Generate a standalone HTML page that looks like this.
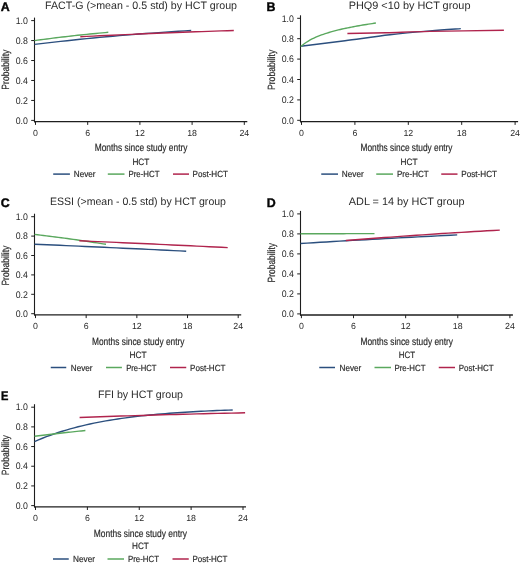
<!DOCTYPE html>
<html><head><meta charset="utf-8"><style>
html,body{margin:0;padding:0;background:#fff;}
svg{display:block;font-family:"Liberation Sans", sans-serif;filter:blur(0.3px);}
text{text-rendering:geometricPrecision;}
text{stroke:#2a2a2a;stroke-width:0.18px;}
text.lt{stroke:none;}
text.lg{stroke:#050505;stroke-width:0.4px;}
</style></head><body>
<svg width="520" height="564" viewBox="0 0 520 564">
<rect width="520" height="564" fill="#fff"/>
<text x="0.80" y="10.80" font-size="12.4" font-weight="bold" text-anchor="start" fill="#050505" class="lg">A</text>
<text x="45.00" y="8.60" font-size="10.8" font-weight="normal" text-anchor="start" fill="#2a2a2a" textLength="192.00" lengthAdjust="spacingAndGlyphs" class="lt">FACT-G (&gt;mean - 0.5 std) by HCT group</text>
<line x1="34.50" y1="17.60" x2="34.50" y2="122.30" stroke="#1e1e1e" stroke-width="1.1"/>
<line x1="33.95" y1="121.70" x2="247.30" y2="121.70" stroke="#1e1e1e" stroke-width="1.3"/>
<line x1="31.20" y1="120.40" x2="34.50" y2="120.40" stroke="#1e1e1e" stroke-width="1"/>
<text x="27.90" y="123.60" font-size="9.6" font-weight="normal" text-anchor="end" fill="#2a2a2a" textLength="12.20" lengthAdjust="spacingAndGlyphs" class="lt">0.0</text>
<line x1="31.20" y1="100.44" x2="34.50" y2="100.44" stroke="#1e1e1e" stroke-width="1"/>
<text x="27.90" y="103.64" font-size="9.6" font-weight="normal" text-anchor="end" fill="#2a2a2a" textLength="12.20" lengthAdjust="spacingAndGlyphs" class="lt">0.2</text>
<line x1="31.20" y1="80.48" x2="34.50" y2="80.48" stroke="#1e1e1e" stroke-width="1"/>
<text x="27.90" y="83.68" font-size="9.6" font-weight="normal" text-anchor="end" fill="#2a2a2a" textLength="12.20" lengthAdjust="spacingAndGlyphs" class="lt">0.4</text>
<line x1="31.20" y1="60.52" x2="34.50" y2="60.52" stroke="#1e1e1e" stroke-width="1"/>
<text x="27.90" y="63.72" font-size="9.6" font-weight="normal" text-anchor="end" fill="#2a2a2a" textLength="12.20" lengthAdjust="spacingAndGlyphs" class="lt">0.6</text>
<line x1="31.20" y1="40.56" x2="34.50" y2="40.56" stroke="#1e1e1e" stroke-width="1"/>
<text x="27.90" y="43.76" font-size="9.6" font-weight="normal" text-anchor="end" fill="#2a2a2a" textLength="12.20" lengthAdjust="spacingAndGlyphs" class="lt">0.8</text>
<line x1="31.20" y1="20.60" x2="34.50" y2="20.60" stroke="#1e1e1e" stroke-width="1"/>
<text x="27.90" y="23.80" font-size="9.6" font-weight="normal" text-anchor="end" fill="#2a2a2a" textLength="12.20" lengthAdjust="spacingAndGlyphs" class="lt">1.0</text>
<line x1="35.50" y1="121.70" x2="35.50" y2="124.90" stroke="#1e1e1e" stroke-width="1"/>
<text x="35.50" y="136.10" font-size="8.8" font-weight="normal" text-anchor="middle" fill="#2a2a2a" class="lt">0</text>
<line x1="87.70" y1="121.70" x2="87.70" y2="124.90" stroke="#1e1e1e" stroke-width="1"/>
<text x="87.70" y="136.10" font-size="8.8" font-weight="normal" text-anchor="middle" fill="#2a2a2a" class="lt">6</text>
<line x1="139.90" y1="121.70" x2="139.90" y2="124.90" stroke="#1e1e1e" stroke-width="1"/>
<text x="139.90" y="136.10" font-size="8.8" font-weight="normal" text-anchor="middle" fill="#2a2a2a" class="lt">12</text>
<line x1="192.10" y1="121.70" x2="192.10" y2="124.90" stroke="#1e1e1e" stroke-width="1"/>
<text x="192.10" y="136.10" font-size="8.8" font-weight="normal" text-anchor="middle" fill="#2a2a2a" class="lt">18</text>
<line x1="244.30" y1="121.70" x2="244.30" y2="124.90" stroke="#1e1e1e" stroke-width="1"/>
<text x="244.30" y="136.10" font-size="8.8" font-weight="normal" text-anchor="middle" fill="#2a2a2a" class="lt">24</text>
<text x="0" y="0" font-size="10.5" fill="#2a2a2a" text-anchor="middle" textLength="40.0" lengthAdjust="spacingAndGlyphs" transform="translate(8.70,69.65) rotate(-90)">Probability</text>
<text x="94.70" y="150.50" font-size="10.4" font-weight="normal" text-anchor="start" fill="#2a2a2a" textLength="92.80" lengthAdjust="spacingAndGlyphs">Months since study entry</text>
<text x="132.40" y="164.80" font-size="9.2" font-weight="normal" text-anchor="start" fill="#2a2a2a" textLength="16.90" lengthAdjust="spacingAndGlyphs">HCT</text>
<line x1="53.20" y1="174.10" x2="69.90" y2="174.10" stroke="#2b4f7e" stroke-width="1.5"/>
<text x="73.80" y="177.30" font-size="8.9" font-weight="normal" text-anchor="start" fill="#2a2a2a" textLength="21.80" lengthAdjust="spacingAndGlyphs">Never</text>
<line x1="107.80" y1="174.10" x2="124.50" y2="174.10" stroke="#5aa85e" stroke-width="1.5"/>
<text x="128.50" y="177.30" font-size="8.9" font-weight="normal" text-anchor="start" fill="#2a2a2a" textLength="31.00" lengthAdjust="spacingAndGlyphs">Pre-HCT</text>
<line x1="173.00" y1="174.10" x2="189.00" y2="174.10" stroke="#b0244d" stroke-width="1.5"/>
<text x="192.50" y="177.30" font-size="8.9" font-weight="normal" text-anchor="start" fill="#2a2a2a" textLength="35.50" lengthAdjust="spacingAndGlyphs">Post-HCT</text>
<path d="M34.50,44.40 L41.03,43.62 L47.56,42.86 L54.09,42.11 L60.62,41.39 L67.15,40.68 L73.67,39.99 L80.20,39.32 L86.73,38.67 L93.26,38.03 L99.79,37.41 L106.32,36.81 L112.85,36.23 L119.38,35.67 L125.91,35.12 L132.44,34.58 L138.97,34.07 L145.50,33.57 L152.02,33.09 L158.55,32.62 L165.08,32.17 L171.61,31.73 L178.14,31.30 L184.67,30.90 L191.20,30.50" fill="none" stroke="#2b4f7e" stroke-width="1.4" stroke-linecap="butt" stroke-linejoin="round"/>
<path d="M34.50,40.60 L37.58,40.18 L40.65,39.77 L43.73,39.36 L46.80,38.96 L49.88,38.57 L52.95,38.18 L56.03,37.80 L59.10,37.43 L62.17,37.06 L65.25,36.70 L68.32,36.35 L71.40,36.00 L74.47,35.66 L77.55,35.32 L80.62,34.99 L83.70,34.67 L86.78,34.35 L89.85,34.04 L92.92,33.74 L96.00,33.44 L99.08,33.15 L102.15,32.86 L105.22,32.58 L108.30,32.30" fill="none" stroke="#5aa85e" stroke-width="1.4" stroke-linecap="butt" stroke-linejoin="round"/>
<path d="M80.30,36.70 L86.70,36.39 L93.09,36.08 L99.49,35.78 L105.88,35.48 L112.28,35.19 L118.67,34.90 L125.07,34.62 L131.47,34.34 L137.86,34.07 L144.26,33.80 L150.65,33.54 L157.05,33.28 L163.45,33.02 L169.84,32.77 L176.24,32.53 L182.63,32.29 L189.03,32.05 L195.43,31.81 L201.82,31.59 L208.22,31.36 L214.61,31.14 L221.01,30.92 L227.40,30.71 L233.80,30.50" fill="none" stroke="#b0244d" stroke-width="1.4" stroke-linecap="butt" stroke-linejoin="round"/>
<text x="266.60" y="10.80" font-size="12.4" font-weight="bold" text-anchor="start" fill="#050505" class="lg">B</text>
<text x="348.70" y="8.60" font-size="10.8" font-weight="normal" text-anchor="start" fill="#2a2a2a" textLength="121.80" lengthAdjust="spacingAndGlyphs" class="lt">PHQ9 &lt;10 by HCT group</text>
<line x1="300.50" y1="15.30" x2="300.50" y2="122.30" stroke="#1e1e1e" stroke-width="1.1"/>
<line x1="299.95" y1="121.70" x2="518.10" y2="121.70" stroke="#1e1e1e" stroke-width="1.3"/>
<line x1="297.20" y1="120.30" x2="300.50" y2="120.30" stroke="#1e1e1e" stroke-width="1"/>
<text x="293.90" y="123.50" font-size="9.6" font-weight="normal" text-anchor="end" fill="#2a2a2a" textLength="12.20" lengthAdjust="spacingAndGlyphs" class="lt">0.0</text>
<line x1="297.20" y1="99.90" x2="300.50" y2="99.90" stroke="#1e1e1e" stroke-width="1"/>
<text x="293.90" y="103.10" font-size="9.6" font-weight="normal" text-anchor="end" fill="#2a2a2a" textLength="12.20" lengthAdjust="spacingAndGlyphs" class="lt">0.2</text>
<line x1="297.20" y1="79.50" x2="300.50" y2="79.50" stroke="#1e1e1e" stroke-width="1"/>
<text x="293.90" y="82.70" font-size="9.6" font-weight="normal" text-anchor="end" fill="#2a2a2a" textLength="12.20" lengthAdjust="spacingAndGlyphs" class="lt">0.4</text>
<line x1="297.20" y1="59.10" x2="300.50" y2="59.10" stroke="#1e1e1e" stroke-width="1"/>
<text x="293.90" y="62.30" font-size="9.6" font-weight="normal" text-anchor="end" fill="#2a2a2a" textLength="12.20" lengthAdjust="spacingAndGlyphs" class="lt">0.6</text>
<line x1="297.20" y1="38.70" x2="300.50" y2="38.70" stroke="#1e1e1e" stroke-width="1"/>
<text x="293.90" y="41.90" font-size="9.6" font-weight="normal" text-anchor="end" fill="#2a2a2a" textLength="12.20" lengthAdjust="spacingAndGlyphs" class="lt">0.8</text>
<line x1="297.20" y1="18.30" x2="300.50" y2="18.30" stroke="#1e1e1e" stroke-width="1"/>
<text x="293.90" y="21.50" font-size="9.6" font-weight="normal" text-anchor="end" fill="#2a2a2a" textLength="12.20" lengthAdjust="spacingAndGlyphs" class="lt">1.0</text>
<line x1="301.50" y1="121.70" x2="301.50" y2="124.90" stroke="#1e1e1e" stroke-width="1"/>
<text x="301.50" y="136.10" font-size="8.8" font-weight="normal" text-anchor="middle" fill="#2a2a2a" class="lt">0</text>
<line x1="354.90" y1="121.70" x2="354.90" y2="124.90" stroke="#1e1e1e" stroke-width="1"/>
<text x="354.90" y="136.10" font-size="8.8" font-weight="normal" text-anchor="middle" fill="#2a2a2a" class="lt">6</text>
<line x1="408.30" y1="121.70" x2="408.30" y2="124.90" stroke="#1e1e1e" stroke-width="1"/>
<text x="408.30" y="136.10" font-size="8.8" font-weight="normal" text-anchor="middle" fill="#2a2a2a" class="lt">12</text>
<line x1="461.70" y1="121.70" x2="461.70" y2="124.90" stroke="#1e1e1e" stroke-width="1"/>
<text x="461.70" y="136.10" font-size="8.8" font-weight="normal" text-anchor="middle" fill="#2a2a2a" class="lt">18</text>
<line x1="515.10" y1="121.70" x2="515.10" y2="124.90" stroke="#1e1e1e" stroke-width="1"/>
<text x="515.10" y="136.10" font-size="8.8" font-weight="normal" text-anchor="middle" fill="#2a2a2a" class="lt">24</text>
<text x="0" y="0" font-size="10.5" fill="#2a2a2a" text-anchor="middle" textLength="40.3" lengthAdjust="spacingAndGlyphs" transform="translate(274.70,69.90) rotate(-90)">Probability</text>
<text x="360.50" y="150.50" font-size="10.4" font-weight="normal" text-anchor="start" fill="#2a2a2a" textLength="92.00" lengthAdjust="spacingAndGlyphs">Months since study entry</text>
<text x="400.50" y="164.80" font-size="9.2" font-weight="normal" text-anchor="start" fill="#2a2a2a" textLength="17.00" lengthAdjust="spacingAndGlyphs">HCT</text>
<line x1="321.25" y1="174.10" x2="338.00" y2="174.10" stroke="#2b4f7e" stroke-width="1.5"/>
<text x="341.75" y="177.30" font-size="8.9" font-weight="normal" text-anchor="start" fill="#2a2a2a" textLength="22.00" lengthAdjust="spacingAndGlyphs">Never</text>
<line x1="376.25" y1="174.10" x2="393.00" y2="174.10" stroke="#5aa85e" stroke-width="1.5"/>
<text x="397.00" y="177.30" font-size="8.9" font-weight="normal" text-anchor="start" fill="#2a2a2a" textLength="31.75" lengthAdjust="spacingAndGlyphs">Pre-HCT</text>
<line x1="441.25" y1="174.10" x2="457.50" y2="174.10" stroke="#b0244d" stroke-width="1.5"/>
<text x="461.25" y="177.30" font-size="8.9" font-weight="normal" text-anchor="start" fill="#2a2a2a" textLength="35.75" lengthAdjust="spacingAndGlyphs">Post-HCT</text>
<path d="M300.80,46.30 C308.17,45.37 330.13,42.62 345.00,40.70 C359.87,38.78 375.83,36.43 390.00,34.80 C404.17,33.17 418.20,31.93 430.00,30.90 C441.80,29.87 455.67,28.98 460.80,28.60" fill="none" stroke="#2b4f7e" stroke-width="1.4" stroke-linecap="butt" stroke-linejoin="round"/>
<path d="M300.80,46.57 L302.68,44.95 L304.56,43.51 L306.43,42.22 L308.31,41.05 L310.19,39.98 L312.06,38.99 L313.94,38.08 L315.82,37.23 L317.70,36.43 L319.57,35.68 L321.45,34.97 L323.33,34.30 L325.21,33.67 L327.08,33.06 L328.96,32.49 L330.84,31.93 L332.72,31.41 L334.59,30.90 L336.47,30.41 L338.35,29.94 L340.23,29.49 L342.11,29.05 L343.98,28.63 L345.86,28.22 L347.74,27.83 L349.62,27.45 L351.49,27.07 L353.37,26.71 L355.25,26.36 L357.12,26.02 L359.00,25.69 L360.88,25.37 L362.76,25.05 L364.63,24.74 L366.51,24.44 L368.39,24.15 L370.27,23.86 L372.14,23.58 L374.02,23.31 L375.90,23.04" fill="none" stroke="#5aa85e" stroke-width="1.4" stroke-linecap="butt" stroke-linejoin="round"/>
<path d="M347.40,33.50 C353.83,33.37 372.23,33.05 386.00,32.70 C399.77,32.35 410.35,31.80 430.00,31.40 C449.65,31.00 491.58,30.48 503.90,30.30" fill="none" stroke="#b0244d" stroke-width="1.4" stroke-linecap="butt" stroke-linejoin="round"/>
<text x="0.80" y="206.70" font-size="12.4" font-weight="bold" text-anchor="start" fill="#050505" class="lg">C</text>
<text x="50.00" y="205.00" font-size="10.8" font-weight="normal" text-anchor="start" fill="#2a2a2a" textLength="176.00" lengthAdjust="spacingAndGlyphs" class="lt">ESSI (&gt;mean - 0.5 std) by HCT group</text>
<line x1="34.50" y1="213.70" x2="34.50" y2="315.50" stroke="#1e1e1e" stroke-width="1.1"/>
<line x1="33.95" y1="314.90" x2="241.20" y2="314.90" stroke="#1e1e1e" stroke-width="1.3"/>
<line x1="31.20" y1="313.70" x2="34.50" y2="313.70" stroke="#1e1e1e" stroke-width="1"/>
<text x="27.90" y="316.90" font-size="9.6" font-weight="normal" text-anchor="end" fill="#2a2a2a" textLength="12.20" lengthAdjust="spacingAndGlyphs" class="lt">0.0</text>
<line x1="31.20" y1="294.30" x2="34.50" y2="294.30" stroke="#1e1e1e" stroke-width="1"/>
<text x="27.90" y="297.50" font-size="9.6" font-weight="normal" text-anchor="end" fill="#2a2a2a" textLength="12.20" lengthAdjust="spacingAndGlyphs" class="lt">0.2</text>
<line x1="31.20" y1="274.90" x2="34.50" y2="274.90" stroke="#1e1e1e" stroke-width="1"/>
<text x="27.90" y="278.10" font-size="9.6" font-weight="normal" text-anchor="end" fill="#2a2a2a" textLength="12.20" lengthAdjust="spacingAndGlyphs" class="lt">0.4</text>
<line x1="31.20" y1="255.50" x2="34.50" y2="255.50" stroke="#1e1e1e" stroke-width="1"/>
<text x="27.90" y="258.70" font-size="9.6" font-weight="normal" text-anchor="end" fill="#2a2a2a" textLength="12.20" lengthAdjust="spacingAndGlyphs" class="lt">0.6</text>
<line x1="31.20" y1="236.10" x2="34.50" y2="236.10" stroke="#1e1e1e" stroke-width="1"/>
<text x="27.90" y="239.30" font-size="9.6" font-weight="normal" text-anchor="end" fill="#2a2a2a" textLength="12.20" lengthAdjust="spacingAndGlyphs" class="lt">0.8</text>
<line x1="31.20" y1="216.70" x2="34.50" y2="216.70" stroke="#1e1e1e" stroke-width="1"/>
<text x="27.90" y="219.90" font-size="9.6" font-weight="normal" text-anchor="end" fill="#2a2a2a" textLength="12.20" lengthAdjust="spacingAndGlyphs" class="lt">1.0</text>
<line x1="35.50" y1="314.90" x2="35.50" y2="318.10" stroke="#1e1e1e" stroke-width="1"/>
<text x="35.50" y="329.30" font-size="8.8" font-weight="normal" text-anchor="middle" fill="#2a2a2a" class="lt">0</text>
<line x1="86.17" y1="314.90" x2="86.17" y2="318.10" stroke="#1e1e1e" stroke-width="1"/>
<text x="86.17" y="329.30" font-size="8.8" font-weight="normal" text-anchor="middle" fill="#2a2a2a" class="lt">6</text>
<line x1="136.85" y1="314.90" x2="136.85" y2="318.10" stroke="#1e1e1e" stroke-width="1"/>
<text x="136.85" y="329.30" font-size="8.8" font-weight="normal" text-anchor="middle" fill="#2a2a2a" class="lt">12</text>
<line x1="187.53" y1="314.90" x2="187.53" y2="318.10" stroke="#1e1e1e" stroke-width="1"/>
<text x="187.53" y="329.30" font-size="8.8" font-weight="normal" text-anchor="middle" fill="#2a2a2a" class="lt">18</text>
<line x1="238.20" y1="314.90" x2="238.20" y2="318.10" stroke="#1e1e1e" stroke-width="1"/>
<text x="238.20" y="329.30" font-size="8.8" font-weight="normal" text-anchor="middle" fill="#2a2a2a" class="lt">24</text>
<text x="0" y="0" font-size="10.5" fill="#2a2a2a" text-anchor="middle" textLength="40.0" lengthAdjust="spacingAndGlyphs" transform="translate(8.70,265.60) rotate(-90)">Probability</text>
<text x="92.00" y="344.50" font-size="10.4" font-weight="normal" text-anchor="start" fill="#2a2a2a" textLength="92.50" lengthAdjust="spacingAndGlyphs">Months since study entry</text>
<text x="129.40" y="358.00" font-size="9.2" font-weight="normal" text-anchor="start" fill="#2a2a2a" textLength="17.10" lengthAdjust="spacingAndGlyphs">HCT</text>
<line x1="50.75" y1="367.50" x2="66.25" y2="367.50" stroke="#2b4f7e" stroke-width="1.5"/>
<text x="70.75" y="370.70" font-size="8.9" font-weight="normal" text-anchor="start" fill="#2a2a2a" textLength="21.75" lengthAdjust="spacingAndGlyphs">Never</text>
<line x1="106.00" y1="367.50" x2="121.90" y2="367.50" stroke="#5aa85e" stroke-width="1.5"/>
<text x="126.20" y="370.70" font-size="8.9" font-weight="normal" text-anchor="start" fill="#2a2a2a" textLength="30.30" lengthAdjust="spacingAndGlyphs">Pre-HCT</text>
<line x1="170.00" y1="367.50" x2="186.25" y2="367.50" stroke="#b0244d" stroke-width="1.5"/>
<text x="190.00" y="370.70" font-size="8.9" font-weight="normal" text-anchor="start" fill="#2a2a2a" textLength="35.50" lengthAdjust="spacingAndGlyphs">Post-HCT</text>
<path d="M34.50,244.20 L40.82,244.47 L47.14,244.75 L53.46,245.03 L59.78,245.31 L66.10,245.59 L72.42,245.87 L78.75,246.15 L85.07,246.44 L91.39,246.72 L97.71,247.01 L104.03,247.30 L110.35,247.59 L116.67,247.89 L122.99,248.18 L129.31,248.48 L135.63,248.77 L141.95,249.07 L148.27,249.37 L154.60,249.67 L160.92,249.98 L167.24,250.28 L173.56,250.59 L179.88,250.89 L186.20,251.20" fill="none" stroke="#2b4f7e" stroke-width="1.4" stroke-linecap="butt" stroke-linejoin="round"/>
<path d="M34.50,234.40 L37.48,234.75 L40.46,235.11 L43.44,235.47 L46.42,235.84 L49.40,236.21 L52.38,236.59 L55.35,236.97 L58.33,237.36 L61.31,237.75 L64.29,238.15 L67.27,238.56 L70.25,238.97 L73.23,239.38 L76.21,239.80 L79.19,240.23 L82.17,240.66 L85.15,241.10 L88.12,241.54 L91.10,241.99 L94.08,242.44 L97.06,242.90 L100.04,243.36 L103.02,243.83 L106.00,244.30" fill="none" stroke="#5aa85e" stroke-width="1.4" stroke-linecap="butt" stroke-linejoin="round"/>
<path d="M79.30,240.80 L85.48,241.06 L91.67,241.33 L97.85,241.59 L104.03,241.86 L110.22,242.13 L116.40,242.40 L122.58,242.68 L128.77,242.95 L134.95,243.23 L141.13,243.51 L147.32,243.79 L153.50,244.07 L159.68,244.36 L165.87,244.64 L172.05,244.93 L178.23,245.22 L184.42,245.51 L190.60,245.81 L196.78,246.10 L202.97,246.40 L209.15,246.70 L215.33,247.00 L221.52,247.30 L227.70,247.60" fill="none" stroke="#b0244d" stroke-width="1.4" stroke-linecap="butt" stroke-linejoin="round"/>
<text x="266.80" y="206.80" font-size="12.4" font-weight="bold" text-anchor="start" fill="#050505" class="lg">D</text>
<text x="348.80" y="205.00" font-size="10.8" font-weight="normal" text-anchor="start" fill="#2a2a2a" textLength="115.80" lengthAdjust="spacingAndGlyphs" class="lt">ADL = 14 by HCT group</text>
<line x1="300.50" y1="210.90" x2="300.50" y2="315.60" stroke="#1e1e1e" stroke-width="1.1"/>
<line x1="299.95" y1="315.00" x2="512.90" y2="315.00" stroke="#1e1e1e" stroke-width="1.3"/>
<line x1="297.20" y1="313.90" x2="300.50" y2="313.90" stroke="#1e1e1e" stroke-width="1"/>
<text x="293.90" y="317.10" font-size="9.6" font-weight="normal" text-anchor="end" fill="#2a2a2a" textLength="12.20" lengthAdjust="spacingAndGlyphs" class="lt">0.0</text>
<line x1="297.20" y1="293.90" x2="300.50" y2="293.90" stroke="#1e1e1e" stroke-width="1"/>
<text x="293.90" y="297.10" font-size="9.6" font-weight="normal" text-anchor="end" fill="#2a2a2a" textLength="12.20" lengthAdjust="spacingAndGlyphs" class="lt">0.2</text>
<line x1="297.20" y1="273.90" x2="300.50" y2="273.90" stroke="#1e1e1e" stroke-width="1"/>
<text x="293.90" y="277.10" font-size="9.6" font-weight="normal" text-anchor="end" fill="#2a2a2a" textLength="12.20" lengthAdjust="spacingAndGlyphs" class="lt">0.4</text>
<line x1="297.20" y1="253.90" x2="300.50" y2="253.90" stroke="#1e1e1e" stroke-width="1"/>
<text x="293.90" y="257.10" font-size="9.6" font-weight="normal" text-anchor="end" fill="#2a2a2a" textLength="12.20" lengthAdjust="spacingAndGlyphs" class="lt">0.6</text>
<line x1="297.20" y1="233.90" x2="300.50" y2="233.90" stroke="#1e1e1e" stroke-width="1"/>
<text x="293.90" y="237.10" font-size="9.6" font-weight="normal" text-anchor="end" fill="#2a2a2a" textLength="12.20" lengthAdjust="spacingAndGlyphs" class="lt">0.8</text>
<line x1="297.20" y1="213.90" x2="300.50" y2="213.90" stroke="#1e1e1e" stroke-width="1"/>
<text x="293.90" y="217.10" font-size="9.6" font-weight="normal" text-anchor="end" fill="#2a2a2a" textLength="12.20" lengthAdjust="spacingAndGlyphs" class="lt">1.0</text>
<line x1="301.40" y1="315.00" x2="301.40" y2="318.20" stroke="#1e1e1e" stroke-width="1"/>
<text x="301.40" y="329.30" font-size="8.8" font-weight="normal" text-anchor="middle" fill="#2a2a2a" class="lt">0</text>
<line x1="353.52" y1="315.00" x2="353.52" y2="318.20" stroke="#1e1e1e" stroke-width="1"/>
<text x="353.52" y="329.30" font-size="8.8" font-weight="normal" text-anchor="middle" fill="#2a2a2a" class="lt">6</text>
<line x1="405.65" y1="315.00" x2="405.65" y2="318.20" stroke="#1e1e1e" stroke-width="1"/>
<text x="405.65" y="329.30" font-size="8.8" font-weight="normal" text-anchor="middle" fill="#2a2a2a" class="lt">12</text>
<line x1="457.77" y1="315.00" x2="457.77" y2="318.20" stroke="#1e1e1e" stroke-width="1"/>
<text x="457.77" y="329.30" font-size="8.8" font-weight="normal" text-anchor="middle" fill="#2a2a2a" class="lt">18</text>
<line x1="509.90" y1="315.00" x2="509.90" y2="318.20" stroke="#1e1e1e" stroke-width="1"/>
<text x="509.90" y="329.30" font-size="8.8" font-weight="normal" text-anchor="middle" fill="#2a2a2a" class="lt">24</text>
<text x="0" y="0" font-size="10.5" fill="#2a2a2a" text-anchor="middle" textLength="39.5" lengthAdjust="spacingAndGlyphs" transform="translate(274.70,262.70) rotate(-90)">Probability</text>
<text x="360.50" y="344.50" font-size="10.4" font-weight="normal" text-anchor="start" fill="#2a2a2a" textLength="92.50" lengthAdjust="spacingAndGlyphs">Months since study entry</text>
<text x="398.75" y="358.00" font-size="9.2" font-weight="normal" text-anchor="start" fill="#2a2a2a" textLength="16.25" lengthAdjust="spacingAndGlyphs">HCT</text>
<line x1="319.25" y1="367.50" x2="335.00" y2="367.50" stroke="#2b4f7e" stroke-width="1.5"/>
<text x="339.50" y="370.70" font-size="8.9" font-weight="normal" text-anchor="start" fill="#2a2a2a" textLength="21.75" lengthAdjust="spacingAndGlyphs">Never</text>
<line x1="374.50" y1="367.50" x2="391.00" y2="367.50" stroke="#5aa85e" stroke-width="1.5"/>
<text x="394.50" y="370.70" font-size="8.9" font-weight="normal" text-anchor="start" fill="#2a2a2a" textLength="31.00" lengthAdjust="spacingAndGlyphs">Pre-HCT</text>
<line x1="438.75" y1="367.50" x2="455.00" y2="367.50" stroke="#b0244d" stroke-width="1.5"/>
<text x="458.75" y="370.70" font-size="8.9" font-weight="normal" text-anchor="start" fill="#2a2a2a" textLength="35.00" lengthAdjust="spacingAndGlyphs">Post-HCT</text>
<path d="M300.50,243.50 L307.03,243.10 L313.56,242.71 L320.09,242.32 L326.62,241.93 L333.15,241.55 L339.68,241.17 L346.20,240.79 L352.73,240.42 L359.26,240.05 L365.79,239.68 L372.32,239.32 L378.85,238.96 L385.38,238.60 L391.91,238.24 L398.44,237.89 L404.97,237.55 L411.50,237.20 L418.02,236.86 L424.55,236.53 L431.08,236.20 L437.61,235.87 L444.14,235.54 L450.67,235.22 L457.20,234.90" fill="none" stroke="#2b4f7e" stroke-width="1.4" stroke-linecap="butt" stroke-linejoin="round"/>
<path d="M300.50,233.80 L303.58,233.79 L306.67,233.78 L309.75,233.77 L312.83,233.77 L315.92,233.76 L319.00,233.75 L322.08,233.74 L325.17,233.73 L328.25,233.72 L331.33,233.72 L334.42,233.71 L337.50,233.70 L340.58,233.69 L343.67,233.68 L346.75,233.67 L349.83,233.67 L352.92,233.66 L356.00,233.65 L359.08,233.64 L362.17,233.63 L365.25,233.62 L368.33,233.62 L371.42,233.61 L374.50,233.60" fill="none" stroke="#5aa85e" stroke-width="1.4" stroke-linecap="butt" stroke-linejoin="round"/>
<path d="M345.80,240.50 L352.22,239.99 L358.63,239.49 L365.05,238.99 L371.47,238.51 L377.88,238.02 L384.30,237.55 L390.72,237.08 L397.13,236.61 L403.55,236.16 L409.97,235.71 L416.38,235.27 L422.80,234.83 L429.22,234.40 L435.63,233.98 L442.05,233.56 L448.47,233.15 L454.88,232.74 L461.30,232.35 L467.72,231.96 L474.13,231.57 L480.55,231.19 L486.97,230.82 L493.38,230.46 L499.80,230.10" fill="none" stroke="#b0244d" stroke-width="1.4" stroke-linecap="butt" stroke-linejoin="round"/>
<text x="0.90" y="400.10" font-size="12.4" font-weight="bold" text-anchor="start" fill="#050505" textLength="7.40" lengthAdjust="spacingAndGlyphs" class="lg">E</text>
<text x="98.00" y="398.30" font-size="10.8" font-weight="normal" text-anchor="start" fill="#2a2a2a" textLength="85.00" lengthAdjust="spacingAndGlyphs" class="lt">FFI by HCT group</text>
<line x1="34.50" y1="404.20" x2="34.50" y2="507.40" stroke="#1e1e1e" stroke-width="1.1"/>
<line x1="33.95" y1="506.80" x2="246.00" y2="506.80" stroke="#1e1e1e" stroke-width="1.3"/>
<line x1="31.20" y1="505.60" x2="34.50" y2="505.60" stroke="#1e1e1e" stroke-width="1"/>
<text x="27.90" y="508.80" font-size="9.6" font-weight="normal" text-anchor="end" fill="#2a2a2a" textLength="12.20" lengthAdjust="spacingAndGlyphs" class="lt">0.0</text>
<line x1="31.20" y1="485.92" x2="34.50" y2="485.92" stroke="#1e1e1e" stroke-width="1"/>
<text x="27.90" y="489.12" font-size="9.6" font-weight="normal" text-anchor="end" fill="#2a2a2a" textLength="12.20" lengthAdjust="spacingAndGlyphs" class="lt">0.2</text>
<line x1="31.20" y1="466.24" x2="34.50" y2="466.24" stroke="#1e1e1e" stroke-width="1"/>
<text x="27.90" y="469.44" font-size="9.6" font-weight="normal" text-anchor="end" fill="#2a2a2a" textLength="12.20" lengthAdjust="spacingAndGlyphs" class="lt">0.4</text>
<line x1="31.20" y1="446.56" x2="34.50" y2="446.56" stroke="#1e1e1e" stroke-width="1"/>
<text x="27.90" y="449.76" font-size="9.6" font-weight="normal" text-anchor="end" fill="#2a2a2a" textLength="12.20" lengthAdjust="spacingAndGlyphs" class="lt">0.6</text>
<line x1="31.20" y1="426.88" x2="34.50" y2="426.88" stroke="#1e1e1e" stroke-width="1"/>
<text x="27.90" y="430.08" font-size="9.6" font-weight="normal" text-anchor="end" fill="#2a2a2a" textLength="12.20" lengthAdjust="spacingAndGlyphs" class="lt">0.8</text>
<line x1="31.20" y1="407.20" x2="34.50" y2="407.20" stroke="#1e1e1e" stroke-width="1"/>
<text x="27.90" y="410.40" font-size="9.6" font-weight="normal" text-anchor="end" fill="#2a2a2a" textLength="12.20" lengthAdjust="spacingAndGlyphs" class="lt">1.0</text>
<line x1="35.50" y1="506.80" x2="35.50" y2="510.00" stroke="#1e1e1e" stroke-width="1"/>
<text x="35.50" y="521.30" font-size="8.8" font-weight="normal" text-anchor="middle" fill="#2a2a2a" class="lt">0</text>
<line x1="87.38" y1="506.80" x2="87.38" y2="510.00" stroke="#1e1e1e" stroke-width="1"/>
<text x="87.38" y="521.30" font-size="8.8" font-weight="normal" text-anchor="middle" fill="#2a2a2a" class="lt">6</text>
<line x1="139.25" y1="506.80" x2="139.25" y2="510.00" stroke="#1e1e1e" stroke-width="1"/>
<text x="139.25" y="521.30" font-size="8.8" font-weight="normal" text-anchor="middle" fill="#2a2a2a" class="lt">12</text>
<line x1="191.12" y1="506.80" x2="191.12" y2="510.00" stroke="#1e1e1e" stroke-width="1"/>
<text x="191.12" y="521.30" font-size="8.8" font-weight="normal" text-anchor="middle" fill="#2a2a2a" class="lt">18</text>
<line x1="243.00" y1="506.80" x2="243.00" y2="510.00" stroke="#1e1e1e" stroke-width="1"/>
<text x="243.00" y="521.30" font-size="8.8" font-weight="normal" text-anchor="middle" fill="#2a2a2a" class="lt">24</text>
<text x="0" y="0" font-size="10.5" fill="#2a2a2a" text-anchor="middle" textLength="40.0" lengthAdjust="spacingAndGlyphs" transform="translate(8.70,455.20) rotate(-90)">Probability</text>
<text x="93.75" y="536.50" font-size="10.4" font-weight="normal" text-anchor="start" fill="#2a2a2a" textLength="93.25" lengthAdjust="spacingAndGlyphs">Months since study entry</text>
<text x="132.00" y="549.40" font-size="9.2" font-weight="normal" text-anchor="start" fill="#2a2a2a" textLength="16.75" lengthAdjust="spacingAndGlyphs">HCT</text>
<line x1="53.00" y1="559.00" x2="68.75" y2="559.00" stroke="#2b4f7e" stroke-width="1.5"/>
<text x="73.00" y="562.20" font-size="8.9" font-weight="normal" text-anchor="start" fill="#2a2a2a" textLength="22.00" lengthAdjust="spacingAndGlyphs">Never</text>
<line x1="107.50" y1="559.00" x2="124.00" y2="559.00" stroke="#5aa85e" stroke-width="1.5"/>
<text x="128.00" y="562.20" font-size="8.9" font-weight="normal" text-anchor="start" fill="#2a2a2a" textLength="31.00" lengthAdjust="spacingAndGlyphs">Pre-HCT</text>
<line x1="172.50" y1="559.00" x2="188.75" y2="559.00" stroke="#b0244d" stroke-width="1.5"/>
<text x="192.50" y="562.20" font-size="8.9" font-weight="normal" text-anchor="start" fill="#2a2a2a" textLength="35.00" lengthAdjust="spacingAndGlyphs">Post-HCT</text>
<path d="M34.50,441.62 L38.46,439.90 L42.43,438.26 L46.39,436.71 L50.36,435.24 L54.32,433.84 L58.28,432.51 L62.25,431.25 L66.21,430.05 L70.18,428.91 L74.14,427.82 L78.10,426.80 L82.07,425.82 L86.03,424.89 L90.00,424.01 L93.96,423.18 L97.92,422.38 L101.89,421.63 L105.85,420.91 L109.82,420.23 L113.78,419.59 L117.74,418.97 L121.71,418.39 L125.67,417.84 L129.64,417.31 L133.60,416.81 L137.56,416.34 L141.53,415.89 L145.49,415.46 L149.46,415.05 L153.42,414.67 L157.38,414.30 L161.35,413.95 L165.31,413.62 L169.28,413.31 L173.24,413.01 L177.20,412.72 L181.17,412.46 L185.13,412.20 L189.10,411.96 L193.06,411.73 L197.02,411.51 L200.99,411.30 L204.95,411.10 L208.92,410.92 L212.88,410.74 L216.84,410.57 L220.81,410.41 L224.77,410.25 L228.74,410.11 L232.70,409.97" fill="none" stroke="#2b4f7e" stroke-width="1.4" stroke-linecap="butt" stroke-linejoin="round"/>
<path d="M34.50,436.20 L36.62,435.95 L38.74,435.70 L40.86,435.44 L42.98,435.20 L45.10,434.95 L47.23,434.70 L49.35,434.46 L51.47,434.21 L53.59,433.97 L55.71,433.73 L57.83,433.49 L59.95,433.25 L62.07,433.01 L64.19,432.78 L66.31,432.54 L68.43,432.31 L70.55,432.08 L72.68,431.85 L74.80,431.62 L76.92,431.39 L79.04,431.17 L81.16,430.94 L83.28,430.72 L85.40,430.50" fill="none" stroke="#5aa85e" stroke-width="1.4" stroke-linecap="butt" stroke-linejoin="round"/>
<path d="M79.60,417.50 L86.50,417.25 L93.39,417.00 L100.29,416.76 L107.18,416.53 L114.08,416.30 L120.97,416.07 L127.87,415.85 L134.77,415.64 L141.66,415.43 L148.56,415.22 L155.45,415.02 L162.35,414.82 L169.25,414.63 L176.14,414.45 L183.04,414.26 L189.93,414.08 L196.83,413.91 L203.72,413.74 L210.62,413.57 L217.52,413.41 L224.41,413.25 L231.31,413.10 L238.20,412.95 L245.10,412.80" fill="none" stroke="#b0244d" stroke-width="1.4" stroke-linecap="butt" stroke-linejoin="round"/>
</svg>
</body></html>
